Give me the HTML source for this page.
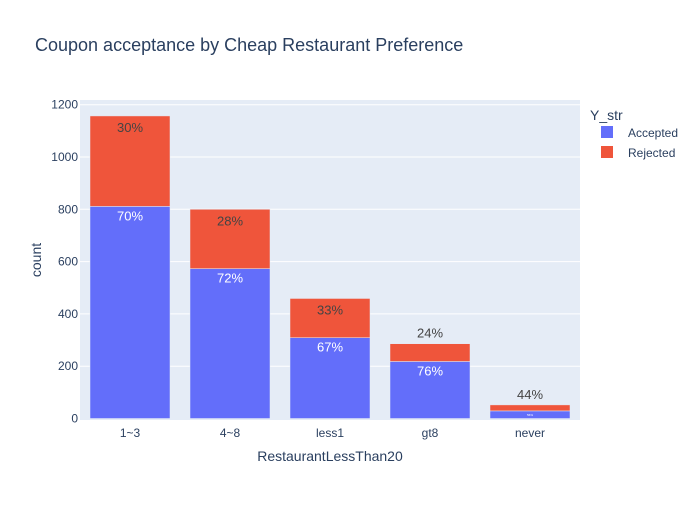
<!DOCTYPE html>
<html><head><meta charset="utf-8"><style>
body{margin:0;background:#fff;font-family:"Liberation Sans",Arial,sans-serif}
text{font-family:"Liberation Sans",Arial,sans-serif}
</style></head><body>
<svg id="chart" width="700" height="500">
<rect x="0" y="0" width="700" height="500" fill="#fff"/>
<text x="35" y="51" font-size="18" fill="#2a3f5f">Coupon acceptance by Cheap Restaurant Preference</text>
<rect x="80" y="100" width="500" height="320" fill="#e5ecf6"/>
<g id="grid"></g>
<g id="bars"></g>
<g id="labels"></g>
<text x="330" y="461" font-size="14" fill="#2a3f5f" text-anchor="middle">RestaurantLessThan20</text>
<text transform="translate(41,260) rotate(-90)" font-size="14" fill="#2a3f5f" text-anchor="middle">count</text>
<g>
<text x="590" y="120" font-size="14" fill="#2a3f5f">Y_str</text>
<g><rect x="601" y="126" width="12" height="12" fill="#636efa"/><text x="628" y="137" font-size="12" fill="#2a3f5f">Accepted</text></g>
<g><rect x="601" y="146" width="12" height="12" fill="#ef553b"/><text x="628" y="157" font-size="12" fill="#2a3f5f">Rejected</text></g>
</g>
</svg>
<script>
const categories=["1~3","4~8","less1","gt8","never"];
const accepted=[811,573,309,218,29];
const rejected=[346,227,150,68,23];
const yTicks=[0,200,400,600,800,1000,1200];
const NS="http://www.w3.org/2000/svg";
const x0=80,pw=500,y0=418.5,ppu=0.2615;
const y=v=>y0-v*ppu;
const band=pw/categories.length;
const xc=i=>x0+band*(i+0.5);
function mk(t,a,p){const e=document.createElementNS(NS,t);for(const k in a)e.setAttribute(k,a[k]);p.appendChild(e);return e;}
const grid=document.getElementById('grid'),bars=document.getElementById('bars'),labels=document.getElementById('labels');
yTicks.forEach(v=>{
 if(v>0){const l=mk('line',{x1:x0,x2:x0+pw,y1:y(v),y2:y(v),stroke:'#fff','stroke-width':1},grid);
 
 }
 const t=mk('text',{x:x0-2,y:y(v)+4,'font-size':12,fill:'#2a3f5f','text-anchor':'end'},grid);
 t.textContent=v;
 
 
});
categories.forEach((c,i)=>{
 const bw=band*0.8,bx=xc(i)-bw/2,a=accepted[i],r=rejected[i],tot=a+r;
 const ba=mk('rect',{x:bx,y:y(a),width:bw,height:y(0)-y(a),fill:'#636efa',stroke:'#e5ecf6','stroke-width':0.5},bars);
 
 
 const br=mk('rect',{x:bx,y:y(tot),width:bw,height:y(a)-y(tot),fill:'#ef553b',stroke:'#e5ecf6','stroke-width':0.5},bars);
 
 
 const pa=Math.round(a/tot*100)+'%',pr=Math.round(r/tot*100)+'%';
 const ha=y(0)-y(a),hr=y(a)-y(tot);
 const ta=mk('text',{x:xc(i),y:ha>20?y(a)+14:y(a)+ha/2+1.5,'font-size':ha>20?13:3,fill:'#fff','text-anchor':'middle'},labels);
 ta.textContent=pa;
 
 
 const tr=mk('text',{x:xc(i),y:hr>20?y(tot)+16:y(tot)-6,'font-size':13,fill:'#444','text-anchor':'middle'},labels);
 tr.textContent=pr;
 
 
 const xt=mk('text',{x:xc(i),y:437,'font-size':12,fill:'#2a3f5f','text-anchor':'middle'},labels);
 xt.textContent=c;
 
 
});
</script>
</body></html>
